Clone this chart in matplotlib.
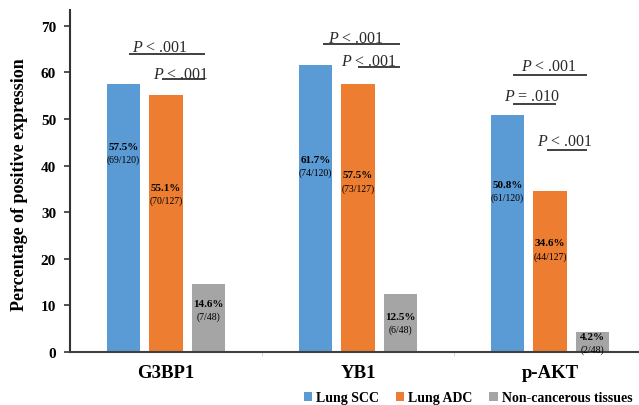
import matplotlib
matplotlib.use("Agg")
import matplotlib.pyplot as plt
from matplotlib.patches import Patch

# ---- data ----
categories = ["G3BP1", "YB1", "p-AKT"]
series = ["Lung SCC", "Lung ADC", "Non-cancerous tissues"]
lung_scc = [57.5, 61.7, 50.8]
lung_adc = [55.1, 57.5, 34.6]
non_cancer = [14.6, 12.5, 4.2]
scc_counts = ["(69/120)", "(74/120)", "(61/120)"]
adc_counts = ["(70/127)", "(73/127)", "(44/127)"]
non_counts = ["(7/48)", "(6/48)", "(2/48)"]
yticks = [0, 10, 20, 30, 40, 50, 60, 70]
# p-value annotations: (label, x_start, x_end, line_y)
pvals = [
    ("<", -0.193, 0.202, 64.0),
    ("<", -0.021, 0.202, 58.6),
    ("<", 0.816, 1.217, 66.1),
    ("<", 0.998, 1.217, 61.2),
    ("<", 1.805, 2.195, 59.5),
    ("=", 1.805, 2.029, 53.3),
    ("<", 1.982, 2.195, 43.4),
]
pval_text = [".001", ".001", ".001", ".001", ".001", ".010", ".001"]

# ---- layout ----
colors = ["#5B9BD5", "#ED7D31", "#A5A5A5"]
offsets = [-0.221, 0.0, 0.221]
bar_w = 0.172
label_y = [[44.2, 41.4, 36.0], [35.4, 38.0, 23.4], [10.5, 7.7, 3.4]]
ptext_x = [-0.032, 0.0775, 0.988, 1.056, 1.995, 1.909, 2.078]
ptext_dy = [0.5, 0.2, 0.5, 0.4, 1.1, 0.8, 1.1]

plt.rcParams["font.family"] = ["Liberation Serif", "DejaVu Serif"]
plt.rcParams["mathtext.fontset"] = "custom"
plt.rcParams["mathtext.it"] = "Liberation Serif:italic"
plt.rcParams["mathtext.rm"] = "Liberation Serif"

fig = plt.figure(figsize=(6.39, 4.06), dpi=100)
W, H = 639, 406
ax = fig.add_axes([70 / W, (H - 353) / H, 576 / W, (353 - 11) / H])

values = [lung_scc, lung_adc, non_cancer]
counts = [scc_counts, adc_counts, non_counts]
xs = list(range(len(categories)))
for s, (vals, cnts) in enumerate(zip(values, counts)):
    pos = [x + offsets[s] for x in xs]
    ax.bar(pos, vals, width=bar_w, color=colors[s], label=series[s], zorder=2)
    for i, (p, v, c) in enumerate(zip(pos, vals, cnts)):
        y = label_y[s][i]
        ax.text(p, y, f"{v:.1f}%", ha="center", va="center",
                fontsize=8, fontweight="bold", color="black", zorder=3)
        ax.annotate(c, (p, y), xytext=(0, -9.2), textcoords="offset points",
                    ha="center", va="center", fontsize=7, color="black", zorder=3)

for (op, x1, x2, yl), t, tx, dy in zip(pvals, pval_text, ptext_x, ptext_dy):
    ax.plot([x1, x2], [yl, yl], color="#404040", lw=1.4, solid_capstyle="butt",
            zorder=3, clip_on=False)
    ax.text(tx, yl + dy, f"$\\mathit{{P}}$ {op} {t}", ha="center", va="baseline",
            fontsize=11.5, color="#2a2a2a", zorder=4)

ax.set_xlim(-0.5, 2.5)
ax.set_ylim(0, 73.4)
ax.set_yticks(yticks)
ax.set_yticklabels([str(t) for t in yticks], fontsize=11, fontweight="bold")
ax.set_xticks(xs)
ax.set_xticklabels(categories, fontsize=13.5, fontweight="bold")
ax.set_xticks([0.5, 1.5], minor=True)
ax.tick_params(axis="x", which="major", length=0, pad=9)
ax.tick_params(axis="x", which="minor", length=3, color="#cccccc", direction="out")
ax.tick_params(axis="y", length=4, width=1.2, color="#333333", pad=6)
for side in ["top", "right"]:
    ax.spines[side].set_visible(False)
ax.spines["left"].set_color("#333333")
ax.spines["left"].set_linewidth(1.5)
ax.spines["bottom"].set_color("#404040")
ax.spines["bottom"].set_linewidth(1.5)

fig.text(20 / W, 1 - 185 / H, "Percentage of positive expression", rotation=90,
         ha="center", va="center", fontsize=13, fontweight="bold")

handles = [Patch(facecolor=c, edgecolor="none") for c in colors]
fig.legend(handles, series, loc="center", bbox_to_anchor=(468 / W, 1 - 399 / H),
           ncol=3, frameon=False, prop={"weight": "bold", "size": 10},
           handlelength=0.6, handleheight=0.6, handletextpad=0.3,
           columnspacing=1.2, borderpad=0, borderaxespad=0)

fig.savefig("out.png", dpi=100)
